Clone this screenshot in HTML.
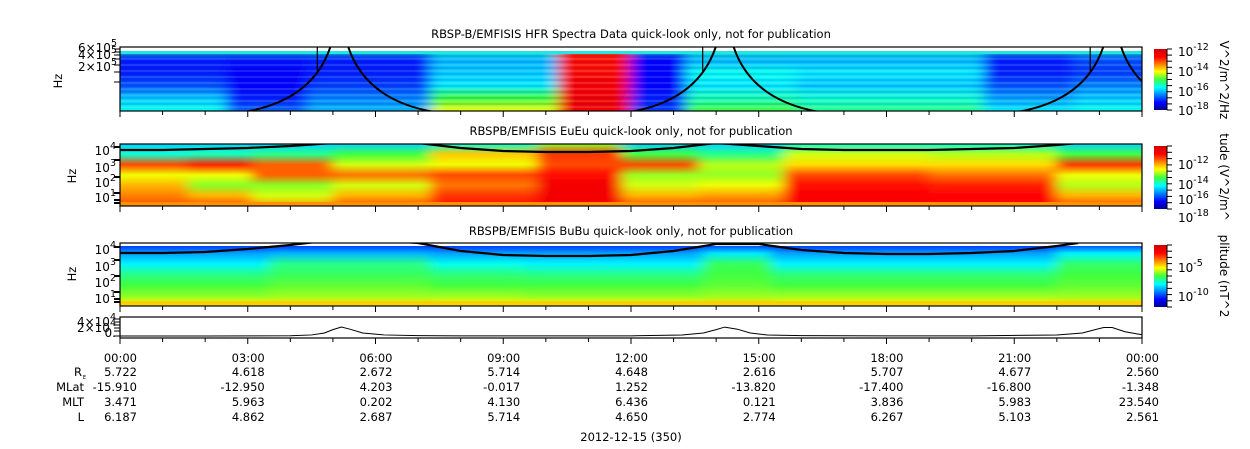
<!DOCTYPE html>
<html><head><meta charset="utf-8"><style>
html,body{margin:0;padding:0;background:#fff}
svg{display:block;font-family:"DejaVu Sans","Liberation Sans",sans-serif}
</style></head><body>
<svg id="s" width="1250" height="449" viewBox="0 0 1250 449" xmlns="http://www.w3.org/2000/svg">
<defs>
<linearGradient id="jet" x1="0" y1="1" x2="0" y2="0">
<stop offset="0" stop-color="#00008f"/><stop offset="0.12" stop-color="#0000ff"/><stop offset="0.37" stop-color="#00ffff"/><stop offset="0.5" stop-color="#40ff40"/><stop offset="0.63" stop-color="#ffff00"/><stop offset="0.87" stop-color="#ff0000"/><stop offset="1" stop-color="#d00000"/>
</linearGradient>
<filter id="hb" x="-0.05" y="0" width="1.1" height="1"><feGaussianBlur stdDeviation="7 0"/></filter>
<clipPath id="c1"><rect x="120" y="47" width="1022" height="64"/></clipPath>
<clipPath id="c2"><rect x="120" y="144" width="1022" height="62"/></clipPath>
<clipPath id="c3"><rect x="120" y="243" width="1022" height="63"/></clipPath>
</defs>
<g id="root"></g>
</svg>
<script>
// ---- data ----
const p1Starts=[0,2.5,4.4,7.3,10.3,12.0,13.3,15.9,20.3,22.4];
const p1Profiles=[[0.42,0.15,0.15,0.2,0.32,0.38],[0.42,0.14,0.12,0.12,0.15,0.22],[0.42,0.15,0.15,0.18,0.25,0.3],[0.42,0.3,0.32,0.35,0.5,0.62],[0.8,0.86,0.86,0.88,0.9,0.9],[0.42,0.12,0.12,0.12,0.15,0.18],[0.42,0.3,0.38,0.35,0.42,0.5],[0.42,0.3,0.35,0.32,0.4,0.45],[0.42,0.15,0.15,0.2,0.28,0.35],[0.42,0.2,0.18,0.25,0.32,0.38]];
const p2Starts=[0,1.6,3.1,5.0,7.3,9.8,11.8,13.6,15.6,19.0,22.0];
const p2Profiles=[[0.33,0.4,0.8,0.62,0.7,0.75,0.8],[0.33,0.42,0.84,0.62,0.55,0.7,0.8],[0.33,0.45,0.78,0.78,0.55,0.6,0.72],[0.33,0.5,0.6,0.76,0.6,0.7,0.8],[0.4,0.68,0.62,0.8,0.76,0.82,0.86],[0.55,0.82,0.8,0.86,0.9,0.9,0.9],[0.33,0.5,0.8,0.56,0.6,0.7,0.8],[0.33,0.45,0.58,0.56,0.62,0.72,0.8],[0.4,0.6,0.66,0.8,0.86,0.88,0.88],[0.4,0.58,0.66,0.76,0.84,0.87,0.88],[0.33,0.5,0.82,0.62,0.58,0.7,0.8]];
const p3Starts=[0,3.5,7.3,9.5,13.7,15.3,22.0];
const p3Profiles=[[0.14,0.28,0.36,0.45,0.5,0.55,0.64],[0.14,0.3,0.45,0.48,0.52,0.56,0.65],[0.14,0.28,0.38,0.46,0.5,0.56,0.64],[0.14,0.28,0.36,0.45,0.5,0.55,0.64],[0.14,0.35,0.48,0.5,0.52,0.56,0.66],[0.14,0.28,0.36,0.46,0.5,0.56,0.64],[0.14,0.36,0.47,0.5,0.52,0.56,0.66]];
const curve2Hours=[0,1,2,3,4,5,6,7,8,9,10,11,12,13,14,15,16,17,18,19,20,21,22,22.5];
const curve2Vals=[150,150,149,148,146,143,140,143,148,151,152,152,151,148,143,146,149,150,150,150,149,148,145,143];
const curve3Hours=[0,1,2,3,4,5,6,7,8,9,10,11,12,13,14,15,16,17,18,19,20,21,22,22.5];
const curve3Vals=[253,253,252,249,245,240,240,243,251,255,256,256,255,251,244,244,250,253,254,254,253,251,246,243];
const arcCenters=[5.15,14.2,23.3];
const posHours=[0,2,4,4.5,4.8,5.0,5.2,5.4,5.7,6.2,7,8,10,12,13.2,13.7,14.0,14.2,14.5,14.8,15.2,16,18,20,22,22.6,22.9,23.1,23.3,23.6,24];
const posVals=[0,0,600,2500,7000,15000,21000,16000,7000,2500,1000,400,300,300,2400,7000,15000,21000,16000,7000,2400,800,400,400,2400,7000,15000,20000,20000,10000,3000];
const timeLabels=["00:00","03:00","06:00","09:00","12:00","15:00","18:00","21:00","00:00"];
const rowNames=["R","MLat","MLT","L"];
const rowR=["5.722","4.618","2.672","5.714","4.648","2.616","5.707","4.677","2.560"];
const rowMLat=["-15.910","-12.950","4.203","-0.017","1.252","-13.820","-17.400","-16.800","-1.348"];
const rowMLT=["3.471","5.963","0.202","4.130","6.436","0.121","3.836","5.983","23.540"];
const rowL=["6.187","4.862","2.687","5.714","4.650","2.774","6.267","5.103","2.561"];

const NS="http://www.w3.org/2000/svg";
const root=document.getElementById('root');
const X0=120,X1=1142;
const xs=h=>X0+(X1-X0)*h/24;
function el(t,a,p){const e=document.createElementNS(NS,t);for(const k in a)e.setAttribute(k,a[k]);(p||root).appendChild(e);return e;}
function jet(v){v=Math.max(0,Math.min(1,v));const st=[[0,[0,0,143]],[0.12,[0,0,255]],[0.37,[0,255,255]],[0.5,[64,255,64]],[0.63,[255,255,0]],[0.87,[255,0,0]],[1,[208,0,0]]];
for(let i=1;i<st.length;i++){if(v<=st[i][0]){const a=st[i-1],b=st[i],t=(v-a[0])/(b[0]-a[0]);return 'rgb('+a[1].map((c,j)=>Math.round(c+(b[1][j]-c)*t)).join(',')+')';}}return 'rgb(208,0,0)';}
let gid=0;
function spectro(name,starts,profiles,y,h,clip){
  const outer=el('g',{'clip-path':'url(#'+clip+')'});
  const g=el('g',{filter:'url(#hb)'},outer);
  
  
  starts.forEach((s,i)=>{
    const e=i+1<starts.length?starts[i+1]:24;
    const id='g'+(gid++);
    const lg=el('linearGradient',{id:id,x1:0,y1:0,x2:0,y2:1},document.querySelector('defs'));
    const pr=profiles[i];
    pr.forEach((v,k)=>el('stop',{offset:k/(pr.length-1),'stop-color':jet(v)},lg));
    const x0=i==0?xs(s)-20:xs(s)-0.5, x1=i+1==starts.length?xs(e)+20:xs(e)+0.5;
    const r=el('rect',{x:x0,y:y,width:x1-x0,height:h,fill:'url(#'+id+')'},g);
    
    
  });
  return outer;
}
function boxAxes(name,y,h){
  const r=el('rect',{x:X0,y:y,width:X1-X0,height:h,fill:'none',stroke:'#000','stroke-width':1.2});
  
  
  for(let i=0;i<=24;i++){const major=i%3==0;el('line',{x1:xs(i),x2:xs(i),y1:y+h,y2:y+h+(major?6:4),stroke:'#000'});}
}
function title(t,y,name){const e=el('text',{x:631,y:y,'font-size':11.5,'text-anchor':'middle'});e.textContent=t;

}
function txt(t,x,y,anchor,size,name){const e=el('text',{x:x,y:y,'font-size':size||11.5,'text-anchor':anchor||'start'});e.textContent=t;

return e;}
function pw(x,y,base,exp,name){const e=txt('',x,y,'end',12,name);const a=el('tspan',{},e);a.textContent=base;const b=el('tspan',{dy:-6,'font-size':9.5},e);b.textContent=exp;return e;}

// Panel 1
title('RBSP-B/EMFISIS  HFR Spectra Data quick-look only, not for publication',38,'hfr-title');
spectro('hfr-spectrogram',p1Starts,p1Profiles,47,64,'c1');
const stripes=el('g',{'clip-path':'url(#c1)',opacity:0.25});


for(let y=53;y<108;y+=3)el('line',{x1:X0,x2:X1,y1:y,y2:y,stroke:(y%2?'#ffffff':'#0000a0'),'stroke-width':1},stripes);
el('rect',{x:X0,y:47,width:X1-X0,height:4,fill:'#fff','clip-path':'url(#c1)'});
el('rect',{x:X0,y:51,width:X1-X0,height:3,fill:'#20e8e0','clip-path':'url(#c1)'});
const arcs=el('g',{'clip-path':'url(#c1)',fill:'none',stroke:'#000','stroke-width':2});


arcCenters.forEach(c=>{const cx=xs(c);
 const p=el('path',{d:`M${cx-95},112 Q${cx-25},100 ${cx-8},44 M${cx+8},44 Q${cx+25},100 ${cx+95},112`},arcs);
 
 
 el('line',{x1:cx-22,x2:cx-22,y1:47,y2:72,'stroke-width':1.2},arcs);});
boxAxes('hfr',47,64);
txt('Hz',58,85,'middle',11.5,'hfr-y-title').setAttribute('transform','rotate(-90 58 81)');
pw(117,52,'6×10','5','hfr-ytick');pw(117,59,'4×10','5','hfr-ytick');pw(117,71,'2×10','5','hfr-ytick');
[49,52,55,59,65,72,82].forEach(y=>el('line',{x1:114,x2:X0,y1:y,y2:y,stroke:'#000'}));

// Panel 2
title('RBSPB/EMFISIS  EuEu quick-look only, not for publication',135,'eueu-title');
spectro('eueu-spectrogram',p2Starts,p2Profiles,144,62,'c2');
el('rect',{x:X0,y:202,width:X1-X0,height:4,fill:'#ff9000','clip-path':'url(#c2)'});
function curve(hours,vals,clip,name){let d='';hours.forEach((h,i)=>{d+=(i?'L':'M')+xs(h)+','+vals[i];});
 const p=el('path',{d:d,fill:'none',stroke:'#000','stroke-width':2.2,'clip-path':'url(#'+clip+')'});
 
 }
curve(curve2Hours,curve2Vals,'c2','eueu-fce-line');
boxAxes('eueu',144,62);
txt('Hz',72,180,'middle',11.5,'eueu-y-title').setAttribute('transform','rotate(-90 72 176)');
pw(116,155,'10','4','eueu-ytick');pw(116,172,'10','3','eueu-ytick');pw(116,187,'10','2','eueu-ytick');pw(116,202,'10','1','eueu-ytick');
[147,160,177,193,200,203].forEach(y=>el('line',{x1:114,x2:X0,y1:y,y2:y,stroke:'#000','stroke-width':2}));

// Panel 3
title('RBSPB/EMFISIS  BuBu quick-look only, not for publication',235,'bubu-title');
spectro('bubu-spectrogram',p3Starts,p3Profiles,243,63,'c3');
el('rect',{x:X0,y:243,width:X1-X0,height:3,fill:'#fff'});
el('rect',{x:X0,y:301,width:X1-X0,height:5,fill:'#ffd000','clip-path':'url(#c3)'});
curve(curve3Hours,curve3Vals,'c3','bubu-fce-line');
boxAxes('bubu',243,63);
txt('Hz',72,278,'middle',11.5,'bubu-y-title').setAttribute('transform','rotate(-90 72 274)');
pw(116,254,'10','4','bubu-ytick');pw(116,271,'10','3','bubu-ytick');pw(116,287,'10','2','bubu-ytick');pw(116,303,'10','1','bubu-ytick');
[247,260,276,292,299,302].forEach(y=>el('line',{x1:114,x2:X0,y1:y,y2:y,stroke:'#000','stroke-width':2}));

// Panel 4
const Y4=v=>336-v*17/40000;
let d='';posHours.forEach((h,i)=>{d+=(i?'L':'M')+xs(h)+','+Y4(posVals[i]);});
const pl=el('path',{d:d,fill:'none',stroke:'#000','stroke-width':1});


boxAxes('position',317,21);
pw(116,326,'4×10','4','position-ytick');pw(116,332,'2×10','4','position-ytick');txt('0.',116,337,'end',12,'position-ytick');
[319,322,325,328,331,336].forEach(y=>el('line',{x1:114,x2:X0,y1:y,y2:y,stroke:'#000'}));

// Colorbars
[[49,61,['-12','-14','-16','-18'],[51,71,91,110],'V^2/m^2/Hz',1220,80],[146,63,['-12','-14','-16','-18'],[164,184,199,217],'tude (V^2/m^',1220,177],[245,62,['-5','-10'],[267,296],'plitude (nT^2',1220,276]].forEach((c,i)=>{
 const r=el('rect',{x:1154,y:c[0],width:13,height:c[1],fill:'url(#jet)'});
 
 
 el('line',{x1:1167,x2:1167,y1:c[0],y2:c[0]+c[1],stroke:'#000'});
 for(let k=0;k<=10;k++)el('line',{x1:1167,x2:1172,y1:c[0]+c[1]*k/10,y2:c[0]+c[1]*k/10,stroke:'#000'});
 c[2].forEach((e,j)=>{const t=txt('',1178,c[3][j]+5,'start',12,'colorbar-tick');const a=el('tspan',{},t);a.textContent='10';const b=el('tspan',{dy:-6,'font-size':9.5},t);b.textContent=e;});
 const t=txt(c[4],c[5],c[6],'middle',12,'colorbar-title-'+(i+1));t.setAttribute('transform','rotate(90 '+c[5]+' '+c[6]+')');
});

// Ephemeris
timeLabels.forEach((t,i)=>txt(t,xs(i*3)+17,362,'end',11.5,'time-tick-label'));
const rows=[rowR,rowMLat,rowMLT,rowL],ry=[376,391,406,421];
rows.forEach((r,j)=>{r.forEach((v,i)=>txt(v,xs(i*3)+17,ry[j],'end',11.5,'ephemeris-value'));});
txt('R',82,376,'end',11.5,'row-label-re');txt('E',86,379,'end',5,'row-label-re-sub');
txt('MLat',84,391,'end',11.5,'row-label-mlat');txt('MLT',84,406,'end',11.5,'row-label-mlt');txt('L',84,421,'end',11.5,'row-label-l');
txt('2012-12-15 (350)',631,441,'middle',11.5,'date-label');
</script>
</body></html>
